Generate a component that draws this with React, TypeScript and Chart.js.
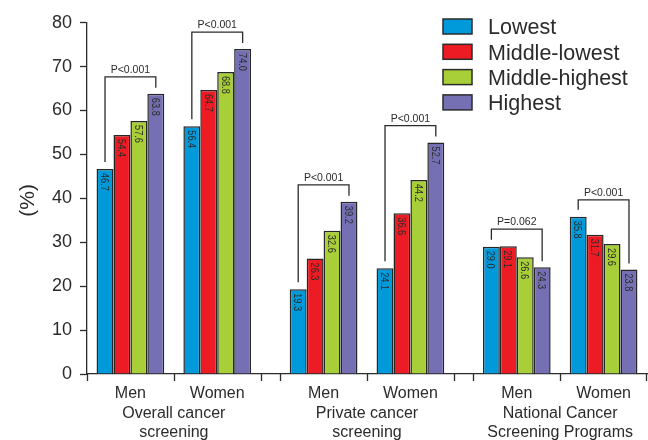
import { useEffect, useRef } from 'react';
import { Chart, registerables } from 'chart.js';

Chart.register(...registerables);

// Screening rates (%) by income quartile, for Men/Women within each screening type
const groupLabels = [
  ['Overall cancer', 'screening'],
  ['Private cancer', 'screening'],
  ['National Cancer', 'Screening Programs'],
];
const sexLabels = ['Men', 'Women'];
const quartileNames = ['Lowest', 'Middle-lowest', 'Middle-highest', 'Highest'];
const lowest = [46.7, 56.4, 19.3, 24.1, 29.0, 35.8];
const middleLowest = [54.4, 64.7, 26.3, 36.6, 29.1, 31.7];
const middleHighest = [57.6, 68.8, 32.6, 44.2, 26.6, 29.6];
const highest = [63.8, 74.0, 39.2, 52.7, 24.3, 23.8];
const pValues = ['P<0.001', 'P<0.001', 'P<0.001', 'P<0.001', 'P=0.062', 'P<0.001'];
const yTicks = [0, 10, 20, 30, 40, 50, 60, 70, 80];

const series = [lowest, middleLowest, middleHighest, highest];
const quartileColors = ['#0099da', '#ed1c24', '#a8cf38', '#7570b3'];

const FONT = '"Liberation Sans", Arial, Helvetica, sans-serif';
const INK = '#2b2b2b';

// x layout: each Men/Women slot is one unit wide, screening types separated by a small gap
const GROUP_GAP = 0.225;
const GROUP_SPAN = sexLabels.length + GROUP_GAP;
const xCenter = (i: number) =>
  Math.floor(i / sexLabels.length) * GROUP_SPAN + (i % sexLabels.length) + 0.5;
const X_MAX = groupLabels.length * sexLabels.length + (groupLabels.length - 1) * GROUP_GAP;
const centers = lowest.map((_, i) => xCenter(i));

const annotate = {
  id: 'annotate',
  afterDatasetsDraw(chart: any) {
    const { ctx, chartArea, scales } = chart;
    const xs = scales.x;
    const bottom = chartArea.bottom;
    const metas = series.map((_, di) => chart.getDatasetMeta(di));

    ctx.save();

    // values written inside the bars, rotated
    metas.forEach((meta: any, di: number) => {
      meta.data.forEach((bar: any, i: number) => {
        ctx.save();
        ctx.translate(bar.x, bar.y + 4);
        ctx.rotate(Math.PI / 2);
        ctx.scale(0.8, 1);
        ctx.font = `11.5px ${FONT}`;
        ctx.fillStyle = INK;
        ctx.textAlign = 'left';
        ctx.textBaseline = 'alphabetic';
        ctx.fillText(series[di][i].toFixed(1), 0, 4.1);
        ctx.restore();
      });
    });

    // trend-test brackets
    ctx.strokeStyle = INK;
    ctx.lineWidth = 1.3;
    ctx.fillStyle = INK;
    ctx.font = `10.5px ${FONT}`;
    ctx.textAlign = 'center';
    ctx.textBaseline = 'alphabetic';
    pValues.forEach((p, i) => {
      const bars = metas.map((m: any) => m.data[i]);
      const first = bars[0];
      const last = bars[bars.length - 1];
      const top = Math.min(...bars.map((b: any) => b.y));
      const hy = top - 17;
      ctx.beginPath();
      ctx.moveTo(first.x, first.y - 7);
      ctx.lineTo(first.x, hy);
      ctx.lineTo(last.x, hy);
      ctx.lineTo(last.x, last.y - 6);
      ctx.stroke();
      ctx.fillText(p, (first.x + last.x) / 2, hy - 4);
    });

    // boundary tick marks under the x axis
    ctx.lineWidth = 1.3;
    groupLabels.forEach((_, g) => {
      for (let k = 0; k <= sexLabels.length; k++) {
        const px = Math.min(Math.round(xs.getPixelForValue(g * GROUP_SPAN + k)) + 0.5, chartArea.right - 0.5);
        ctx.beginPath();
        ctx.moveTo(px, bottom);
        ctx.lineTo(px, bottom + 7);
        ctx.stroke();
      }
    });

    // Men / Women labels and screening type labels
    ctx.font = `16px ${FONT}`;
    ctx.textAlign = 'center';
    centers.forEach((c, i) => {
      ctx.fillText(sexLabels[i % sexLabels.length], xs.getPixelForValue(c), bottom + 23.5);
    });
    groupLabels.forEach((lines, g) => {
      const gx = xs.getPixelForValue(g * GROUP_SPAN + sexLabels.length / 2);
      lines.forEach((line, l) => {
        ctx.fillText(line, gx, bottom + 44 + l * 18.5);
      });
    });

    // y axis title
    ctx.save();
    ctx.translate(28, (chartArea.top + chartArea.bottom) / 2 + 2);
    ctx.rotate(-Math.PI / 2);
    ctx.font = `21px ${FONT}`;
    ctx.textBaseline = 'middle';
    ctx.fillText('(%)', 0, 0);
    ctx.restore();

    // legend
    quartileNames.forEach((name, k) => {
      const base = 34.3 + k * 25.3;
      ctx.fillStyle = quartileColors[k];
      ctx.fillRect(443, base - 15.3, 29, 15);
      ctx.strokeStyle = INK;
      ctx.lineWidth = 1.5;
      ctx.strokeRect(443, base - 15.3, 29, 15);
      ctx.fillStyle = INK;
      ctx.font = `21.5px ${FONT}`;
      ctx.textAlign = 'left';
      ctx.fillText(name, 488, base);
    });

    ctx.restore();
  },
};

export default function App() {
  const canvasRef = useRef<HTMLCanvasElement | null>(null);

  useEffect(() => {
    const canvas = canvasRef.current;
    if (!canvas) return;
    const chart = new Chart(canvas, {
      type: 'bar',
      data: {
        datasets: series.map((values, di) => ({
          label: quartileNames[di],
          data: values.map((v, i) => ({ x: centers[i], y: v })),
          backgroundColor: quartileColors[di],
          borderColor: '#262626',
          borderWidth: 1.5,
          categoryPercentage: 0.78,
          barPercentage: 1,
        })),
      },
      options: {
        responsive: false,
        animation: false,
        layout: { padding: { top: 22.7, right: 1, left: 0, bottom: 0 } },
        plugins: {
          legend: { display: false },
          tooltip: { enabled: false },
        },
        scales: {
          x: {
            type: 'linear',
            offset: false,
            min: 0,
            max: X_MAX,
            grid: { display: false, offset: false },
            border: { display: true, color: INK, width: 1.3 },
            ticks: { display: false, autoSkip: false },
            afterBuildTicks: (scale: any) => {
              scale.ticks = centers.map((v) => ({ value: v }));
            },
            afterFit: (scale: any) => {
              scale.height = 66;
            },
          },
          y: {
            min: 0,
            max: 80,
            grid: {
              drawOnChartArea: false,
              drawTicks: true,
              tickLength: 7,
              tickColor: INK,
              tickWidth: 1.3,
            },
            border: { display: true, color: INK, width: 1.3 },
            ticks: {
              padding: 8,
              color: INK,
              font: { family: FONT, size: 18 },
            },
            afterBuildTicks: (scale: any) => {
              scale.ticks = yTicks.map((v) => ({ value: v }));
            },
            afterFit: (scale: any) => {
              scale.width = 87;
            },
          },
        },
      },
      plugins: [annotate],
    } as any);
    return () => chart.destroy();
  }, []);

  return (
    <div style={{ position: 'absolute', left: 0, top: 0, width: 648, height: 440, background: '#fff' }}>
      <canvas ref={canvasRef} width={648} height={440} style={{ display: 'block' }} />
    </div>
  );
}
